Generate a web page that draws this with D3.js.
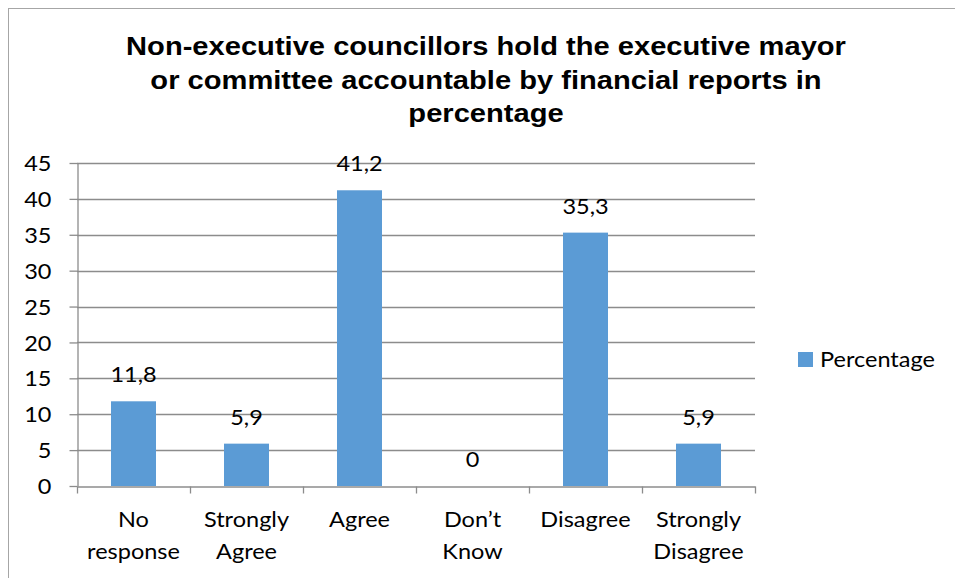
<!DOCTYPE html>
<html>
<head>
<meta charset="utf-8">
<script src="https://cdn.jsdelivr.net/npm/d3@7"></script>
<style>
  html, body { margin: 0; padding: 0; background: #fff; }
  svg { display: block; }
</style>
</head>
<body>
<script>
// Survey responses, in percent
const categories = [["No", "response"], ["Strongly", "Agree"], ["Agree"], ["Don\u2019t", "Know"], ["Disagree"], ["Strongly", "Disagree"]];
const percentages = [11.8, 5.9, 41.2, 0, 35.3, 5.9];
const valueLabels = ["11,8", "5,9", "41,2", "0", "35,3", "5,9"];
const yTicks = [0, 5, 10, 15, 20, 25, 30, 35, 40, 45];
const titleLines = [
  "Non-executive councillors hold the executive mayor",
  "or committee accountable by financial reports in",
  "percentage"
];
const seriesName = "Percentage";

const W = 955, H = 578;
const barColor = "#5B9BD5";
const gridColor = "#8c8c8c";
const bodyFont = "Lato, 'Open Sans', sans-serif";
const SX = 1.12; // horizontal glyph stretch used for all text

const svg = d3.select("body").append("svg").attr("width", W).attr("height", H);

// place a text element at (x, y) with the horizontal stretch applied
function placeText(sel, x, y) {
  sel.attr("transform", `translate(${x},${y}) scale(${SX},1)`).attr("x", 0).attr("y", 0);
}

// outer chart frame
svg.append("rect")
  .attr("x", 8.5).attr("y", 8.5).attr("width", W + 10).attr("height", H + 10)
  .attr("fill", "#fff").attr("stroke", "#a6a6a6").attr("stroke-width", 1);

// title
titleLines.forEach((t, i) => {
  svg.append("text")
    .attr("text-anchor", "middle")
    .attr("font-family", "'Liberation Sans', Arial, sans-serif")
    .attr("font-weight", "bold")
    .attr("font-size", 26)
    .attr("fill", "#000")
    .text(t)
    .call(placeText, 486, 55 + i * 33.5);
});

const plot = { left: 77, right: 755, top: 163, bottom: 486 };

const x = d3.scaleBand()
  .domain(d3.range(categories.length))
  .range([plot.left, plot.right])
  .paddingInner(0).paddingOuter(0);

const y = d3.scaleLinear().domain([0, 45]).range([plot.bottom, plot.top]);

// horizontal gridlines
svg.append("g")
  .selectAll("line")
  .data(yTicks.filter(d => d > 0))
  .join("line")
  .attr("x1", plot.left).attr("x2", plot.right)
  .attr("y1", d => Math.round(y(d)) + 0.5).attr("y2", d => Math.round(y(d)) + 0.5)
  .attr("stroke", gridColor).attr("stroke-width", 1.3);

// y axis
const yAxis = svg.append("g")
  .attr("transform", `translate(${plot.left + 0.5},0)`)
  .call(d3.axisLeft(y).tickValues(yTicks).tickSize(8).tickPadding(16).tickSizeOuter(0));
yAxis.selectAll("path, line").attr("stroke", gridColor).attr("stroke-width", 1.3);
yAxis.selectAll("text")
  .attr("font-family", bodyFont).attr("font-size", 21).attr("fill", "#000")
  .attr("dy", "0.36em")
  .call(placeText, -26, 0);

// bars
const barW = 45;
svg.append("g")
  .selectAll("rect")
  .data(percentages)
  .join("rect")
  .attr("x", (d, i) => x(i) + x.bandwidth() / 2 - barW / 2)
  .attr("width", barW)
  .attr("y", d => y(d))
  .attr("height", d => y(0) - y(d))
  .attr("fill", barColor);

// x axis
const xAxis = svg.append("g")
  .attr("transform", `translate(0,${plot.bottom + 0.5})`)
  .call(d3.axisBottom(x).tickSize(0).tickFormat(""));
xAxis.select("path").attr("stroke", gridColor).attr("stroke-width", 1.3);
// category boundary ticks
xAxis.selectAll(".boundary")
  .data(d3.range(categories.length + 1))
  .join("line")
  .attr("class", "boundary")
  .attr("x1", i => (i < categories.length ? x(i) : plot.right) + 0.5)
  .attr("x2", i => (i < categories.length ? x(i) : plot.right) + 0.5)
  .attr("y1", 0).attr("y2", 7)
  .attr("stroke", gridColor).attr("stroke-width", 1.3);

// category labels
categories.forEach((lines, i) => {
  lines.forEach((ln, j) => {
    svg.append("text")
      .attr("text-anchor", "middle")
      .attr("font-family", bodyFont).attr("font-size", 21).attr("fill", "#000")
      .text(ln)
      .call(placeText, x(i) + x.bandwidth() / 2, 527 + j * 32);
  });
});

// value labels
svg.append("g")
  .selectAll("text")
  .data(percentages)
  .join("text")
  .attr("text-anchor", "middle")
  .attr("font-family", bodyFont).attr("font-size", 21).attr("fill", "#000")
  .text((d, i) => valueLabels[i])
  .each(function (d, i) {
    d3.select(this).call(placeText, x(i) + x.bandwidth() / 2, y(d) - 19);
  });

// legend
const legend = svg.append("g").attr("transform", "translate(798,352)");
legend.append("rect").attr("width", 15).attr("height", 15).attr("fill", barColor);
legend.append("text")
  .attr("font-family", bodyFont).attr("font-size", 21).attr("fill", "#000")
  .text(seriesName)
  .call(placeText, 22, 15);
</script>
</body>
</html>
